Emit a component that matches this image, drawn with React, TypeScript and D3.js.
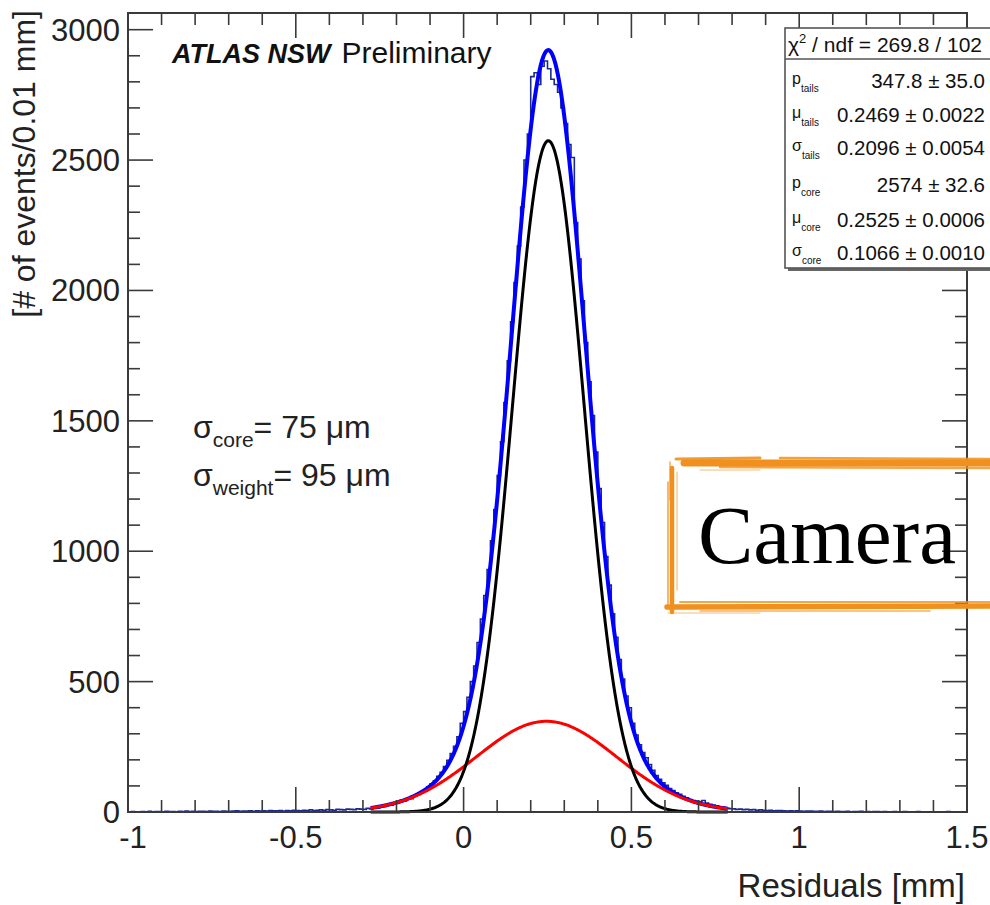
import React from "react";
import * as d3 from "d3";

// Residual histogram, 0.01 mm bins over [-1, 1.5] mm
const binLow = -1;
const binWidth = 0.01;
const leftTailCounts = [
  1, 2, 1, 0, 2, 1, 3, 1, 2, 2,
  1, 3, 2, 2, 1, 3, 2, 4, 2, 3,
  2, 3, 3, 2, 4, 3, 3, 2, 4, 3,
  3, 4, 5, 3, 4, 4, 5, 3, 5, 4,
  5, 4, 6, 5, 5, 6, 4, 6, 5, 7,
  6, 5, 7, 6, 8, 6, 7, 8, 7, 9,
  8, 7, 10, 9, 8, 11, 10, 9, 12, 11,
];
const centralCounts = [
  10, 14, 12, 18, 16, 22, 21, 28, 26, 33,
  36, 44, 42, 52, 51, 61, 67, 74, 82, 97,
  108, 120, 137, 152, 174, 198, 224, 252, 288, 340,
  385, 440, 500, 560, 650, 740, 830, 930, 1040, 1160,
  1290, 1420, 1570, 1730, 1880, 2030, 2170, 2320, 2500, 2600,
  2820, 2835, 2790, 2860, 2880, 2850, 2810, 2790, 2760, 2700,
  2640, 2560, 2510, 2260, 2120, 1960, 1800, 1650, 1520, 1380,
  1240, 1110, 980, 870, 760, 670, 585, 510, 445, 400,
  340, 295, 258, 228, 208, 182, 160, 140, 125, 112,
  102, 90, 82, 74, 68, 60, 54, 48, 44, 42,
  40, 44, 34, 30, 27, 24, 20, 18, 15, 13,
];
const rightTailCounts = [
  12, 10, 11, 9, 10, 8, 9, 7, 8, 7,
  6, 7, 5, 6, 6, 5, 4, 5, 4, 5,
  4, 3, 4, 4, 3, 3, 4, 2, 3, 3,
  2, 3, 2, 2, 3, 1, 2, 2, 3, 1,
  2, 1, 2, 2, 1, 2, 1, 1, 2, 1,
  1, 2, 1, 0, 1, 2, 1, 1, 0, 1,
  1, 0, 1, 1, 2, 0, 1, 1, 0, 1,
];
const counts = [...leftTailCounts, ...centralCounts, ...rightTailCounts];

// Double-Gaussian fit: [amplitude, mean, sigma]
const tailsParams = [347.8, 0.2469, 0.2096];
const tailsErrors = ["35.0", "0.0022", "0.0054"];
const coreParams = [2574, 0.2525, 0.1066];
const coreErrors = ["32.6", "0.0006", "0.0010"];
const fitRange = [-0.277, 0.788];
const chi2Text = "269.8 / 102";

// Axes
const xTicks = [-1, -0.5, 0, 0.5, 1, 1.5];
const xTickLabels = ["-1", "-0.5", "0", "0.5", "1", "1.5"];
const yTicks = [0, 500, 1000, 1500, 2000, 2500, 3000];
const yTickLabels = ["0", "500", "1000", "1500", "2000", "2500", "3000"];

const SANS = "'Liberation Sans', Arial, Helvetica, sans-serif";

const gaus = (p: number[], v: number) =>
  p[0] * Math.exp(-0.5 * ((v - p[1]) / p[2]) ** 2);

// brushed-marker frame strokes: [x1, y1, x2, y2, width, opacity]
const brushStrokes: number[][] = [
  [684, 463, 996, 463, 7, 1],
  [676, 459, 760, 458, 3, 0.9],
  [780, 458, 996, 459, 2.5, 0.85],
  [720, 467, 996, 468, 2.5, 0.8],
  [700, 470, 760, 470, 1.2, 0.6],
  [672, 468, 672, 612, 4.5, 1],
  [668, 482, 668, 604, 1.6, 0.8],
  [677, 472, 677, 590, 1.2, 0.6],
  [670, 462, 670, 500, 1.5, 0.7],
  [667, 607, 996, 606, 5.5, 1],
  [680, 602, 996, 602, 1.8, 0.8],
  [700, 611, 930, 611, 1.6, 0.7],
  [668, 613, 760, 613, 1.2, 0.6],
];

export default function App() {
  const x = d3.scaleLinear().domain([-1, 1.5]).range([128, 967]);
  const y = d3.scaleLinear().domain([0, 3064]).range([812, 13]);
  const [x0, x1] = x.range();
  const [y0, y1] = y.range();

  // histogram outline
  const histPts: [number, number][] = counts.map((c, i) => [binLow + i * binWidth, c]);
  histPts.push([binLow + counts.length * binWidth, counts[counts.length - 1]]);
  const histPath = d3
    .line<[number, number]>()
    .x((d) => x(d[0]))
    .y((d) => y(d[1]))
    .curve(d3.curveStepAfter)(histPts) as string;

  const xs = d3.range(fitRange[0], fitRange[1] + 1e-9, 0.002);
  const fn = (f: (v: number) => number) =>
    d3
      .line<number>()
      .x((v) => x(v))
      .y((v) => y(f(v)))
      .curve(d3.curveLinear)(xs) as string;
  const tailsPath = fn((v) => gaus(tailsParams, v));
  const corePath = fn((v) => gaus(coreParams, v));
  const totalPath = fn((v) => gaus(tailsParams, v) + gaus(coreParams, v));

  const xMinor = d3.range(-1, 1.5001, 0.1);
  const yMinor = d3.range(0, 3001, 100);
  const MAJ = 25;
  const MIN = 12;

  const statRows = [
    { sym: "p", sub: "tails", val: tailsParams[0].toFixed(1), err: tailsErrors[0] },
    { sym: "μ", sub: "tails", val: tailsParams[1].toFixed(4), err: tailsErrors[1] },
    { sym: "σ", sub: "tails", val: tailsParams[2].toFixed(4), err: tailsErrors[2] },
    { sym: "p", sub: "core", val: coreParams[0].toFixed(0), err: coreErrors[0] },
    { sym: "μ", sub: "core", val: coreParams[1].toFixed(4), err: coreErrors[1] },
    { sym: "σ", sub: "core", val: coreParams[2].toFixed(4), err: coreErrors[2] },
  ];
  const statBaselines = [88, 122, 155, 192, 227, 260];

  const axisColor = "#3a3a3a";

  return (
    <svg
      width={990}
      height={905}
      style={{ position: "absolute", left: 0, top: 0, background: "#fff" }}
      fontFamily={SANS}
    >
      <rect x={0} y={0} width={990} height={905} fill="#fff" />

      {/* data and fit curves */}
      <g>
        <path d={histPath} fill="none" stroke="#1c2a8c" strokeWidth={1.6} />
        <path d={totalPath} fill="none" stroke="#0000ff" strokeWidth={4} />
        <path d={tailsPath} fill="none" stroke="#ff0000" strokeWidth={3} />
        <path d={corePath} fill="none" stroke="#000" strokeWidth={3} />
      </g>

      {/* frame */}
      <rect x={x0} y={y1} width={x1 - x0} height={y0 - y1} fill="none" stroke={axisColor} strokeWidth={2} />

      {/* ticks on all four sides */}
      <g stroke={axisColor} strokeWidth={1.6}>
        {xMinor.map((v, i) => {
          const major = Math.abs(v * 2 - Math.round(v * 2)) < 1e-6;
          const len = major ? MAJ : MIN;
          return (
            <g key={"xt" + i}>
              <line x1={x(v)} x2={x(v)} y1={y0} y2={y0 - len} />
              <line x1={x(v)} x2={x(v)} y1={y1} y2={y1 + len} />
            </g>
          );
        })}
        {yMinor.map((v, i) => {
          const len = v % 500 === 0 ? MAJ : MIN;
          return (
            <g key={"yt" + i}>
              <line x1={x0} x2={x0 + len} y1={y(v)} y2={y(v)} />
              <line x1={x1} x2={x1 - len} y1={y(v)} y2={y(v)} />
            </g>
          );
        })}
      </g>

      {/* tick labels */}
      <g fontSize={31} fill="#222">
        {xTicks.map((v, i) => (
          <text key={"xl" + i} x={x(v)} y={848} dx={i === 0 ? 5 : 0} textAnchor="middle">
            {xTickLabels[i]}
          </text>
        ))}
        {yTicks.map((v, i) => (
          <text key={"yl" + i} x={120} y={y(v) + 11} textAnchor="end">
            {yTickLabels[i]}
          </text>
        ))}
      </g>

      {/* axis titles */}
      <text x={965} y={897} textAnchor="end" fontSize={33} fill="#222">
        Residuals [mm]
      </text>
      <text transform="translate(35,10) rotate(-90)" textAnchor="end" fontSize={32} fill="#222">
        [# of events/0.01 mm]
      </text>

      {/* experiment label */}
      <text x={172} y={63} fontSize={27} fill="#111">
        <tspan fontWeight="bold" fontStyle="italic">ATLAS NSW</tspan>
        <tspan dx={11} fontSize={30}>Preliminary</tspan>
      </text>

      {/* resolution summary */}
      <g fontSize={32} fill="#222">
        <text x={193} y={438}>
          σ<tspan fontSize={21} dy={9}>core</tspan>
          <tspan dy={-9}>= 75 μm</tspan>
        </text>
        <text x={193} y={486}>
          σ<tspan fontSize={21} dy={9}>weight</tspan>
          <tspan dy={-9}>= 95 μm</tspan>
        </text>
      </g>

      {/* fit statistics box */}
      <g>
        <rect x={788} y={31} width={220} height={240} fill="#666" />
        <rect x={785} y={28} width={220} height={240} fill="#fff" stroke="#555" strokeWidth={1.6} />
        <line x1={785} x2={1000} y1={59} y2={59} stroke="#555" strokeWidth={1.6} />
        <text x={788} y={52} fontSize={21} fill="#111">
          χ<tspan fontSize={13} dy={-9}>2</tspan>
          <tspan dy={9}> / ndf = {chi2Text}</tspan>
        </text>
        {statRows.map((r, i) => (
          <g key={"sr" + i} fill="#111">
            <text x={792} y={statBaselines[i] - 4} fontSize={16}>
              {r.sym}
              <tspan fontSize={10} dy={8}>
                {r.sub}
              </tspan>
            </text>
            <text x={985} y={statBaselines[i]} fontSize={20.5} textAnchor="end">
              {r.val} ± {r.err}
            </text>
          </g>
        ))}
      </g>

      {/* brushed frame with caption */}
      <g stroke="#f0901e" strokeLinecap="round" fill="none">
        {brushStrokes.map((s, i) => (
          <line key={"bs" + i} x1={s[0]} y1={s[1]} x2={s[2]} y2={s[3]} strokeWidth={s[4]} opacity={s[5]} />
        ))}
      </g>
      <text x={698} y={563} fontSize={83} fontFamily="'Liberation Serif', 'DejaVu Serif', serif" fill="#000">
        Camera
      </text>
    </svg>
  );
}
